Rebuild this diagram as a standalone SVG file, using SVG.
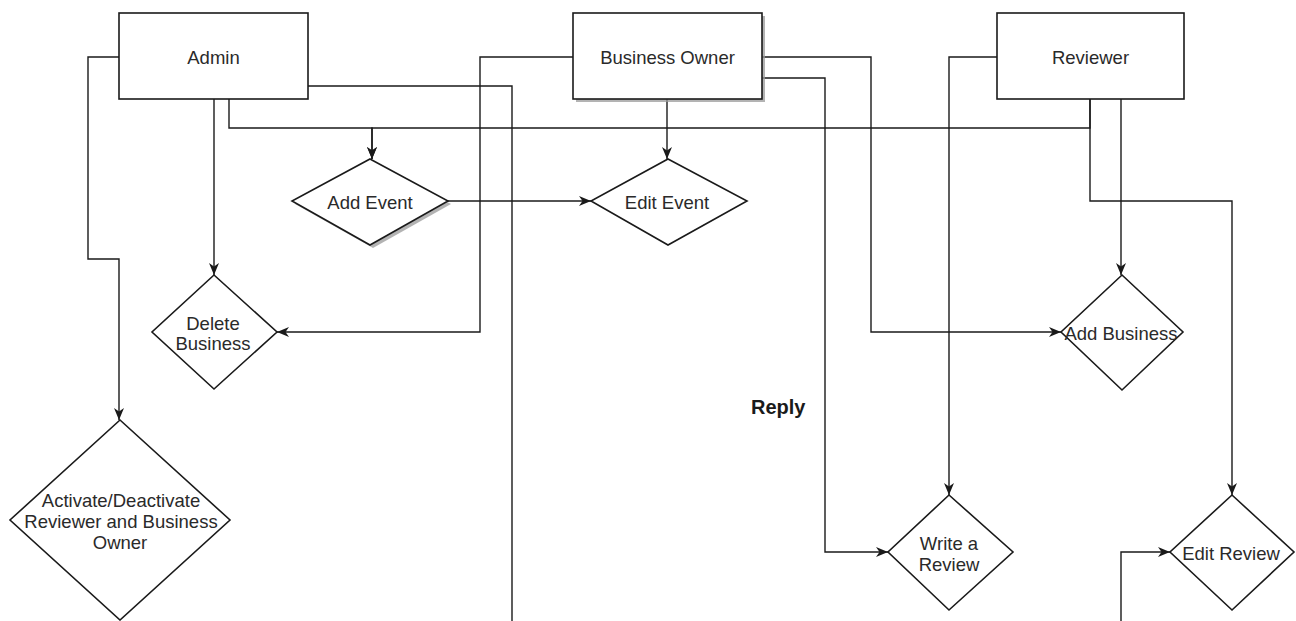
<svg xmlns="http://www.w3.org/2000/svg" width="1296" height="621" viewBox="0 0 1296 621">
<style>
.shape{fill:#fff;stroke:#1a1a1a;stroke-width:1.6}
.shadow{fill:#9a9a9a;opacity:0.75}
.conn{fill:none;stroke:#1a1a1a;stroke-width:1.4}
.arr{marker-end:url(#ah)}
.lbl{font-family:"Liberation Sans",Arial,sans-serif;font-size:18.5px;fill:#2a2a2a;text-anchor:middle;dominant-baseline:central}
.free{font-family:"Liberation Sans",Arial,sans-serif;font-size:20px;font-weight:bold;fill:#1a1a1a}
</style>
<defs>
<marker id="ah" viewBox="0 0 12 10" markerUnits="userSpaceOnUse" markerWidth="12" markerHeight="10" refX="12" refY="5" orient="auto">
<path d="M0,0 L12,5 L0,10 L3.5,5 Z" fill="#1a1a1a"/>
</marker>
</defs>
<rect width="1296" height="621" fill="#fff"/>
<g id="connectors">
<path class="conn arr" d="M119,57 H88 V259 H119 V420"/>
<path class="conn arr" d="M214,99 V275"/>
<path class="conn arr" d="M229,99 V128 H372 V159"/>
<path class="conn arr" d="M1090,99 V128 H372 V159"/>
<path class="conn arr" d="M1090,99 V201 H1232 V495"/>
<path class="conn" d="M308,86 H512 V621"/>
<path class="conn arr" d="M573,57 H480 V332 H277"/>
<path class="conn arr" d="M667,99 V159"/>
<path class="conn arr" d="M762,57 H871 V332 H1061"/>
<path class="conn arr" d="M762,78 H825 V552 H888"/>
<path class="conn arr" d="M997,57 H949 V495"/>
<path class="conn arr" d="M1121,99 V275"/>
<path class="conn arr" d="M448,201 H591"/>
<path class="conn arr" d="M1121,621 V552 H1170"/>
</g>
<g id="admin">
<rect class="shape" x="119" y="13" width="189" height="86"/>
<text class="lbl" x="213.5" y="57">Admin</text>
</g>
<g id="business-owner">
<rect class="shadow" x="576" y="16" width="189" height="86"/>
<rect class="shape" x="573" y="13" width="189" height="86"/>
<text class="lbl" x="667.5" y="57">Business Owner</text>
</g>
<g id="reviewer">
<rect class="shape" x="997" y="13" width="187" height="86"/>
<text class="lbl" x="1090.5" y="57">Reviewer</text>
</g>
<g id="add-event">
<polygon class="shadow" points="373,162 451,204 373,248 295,204"/>
<polygon class="shape" points="370,159 448,201 370,245 292,201"/>
<text class="lbl" x="370" y="202">Add Event</text>
</g>
<g id="edit-event">
<polygon class="shape" points="668,159 747,201 668,245 591,201"/>
<text class="lbl" x="667" y="202">Edit Event</text>
</g>
<g id="delete-business">
<polygon class="shape" points="214,275 277,332 214,389 152,332"/>
<text class="lbl" x="213" y="323">Delete</text>
<text class="lbl" x="213" y="343">Business</text>
</g>
<g id="activate-deactivate">
<polygon class="shape" points="120,420 230,520 120,620 10,520"/>
<text class="lbl" x="121" y="500">Activate/Deactivate</text>
<text class="lbl" x="121" y="521">Reviewer and Business</text>
<text class="lbl" x="120" y="542">Owner</text>
</g>
<g id="add-business">
<polygon class="shape" points="1122,275 1183,332 1122,390 1061,332"/>
<text class="lbl" x="1121" y="333">Add Business</text>
</g>
<g id="write-review">
<polygon class="shape" points="949,495 1013,552 949,610 888,552"/>
<text class="lbl" x="949" y="543">Write a</text>
<text class="lbl" x="949" y="564">Review</text>
</g>
<g id="edit-review">
<polygon class="shape" points="1232,495 1294,552 1232,610 1170,552"/>
<text class="lbl" x="1231" y="553">Edit Review</text>
</g>
<g id="reply-label">
<text class="free" x="751" y="414">Reply</text>
</g>
</svg>
